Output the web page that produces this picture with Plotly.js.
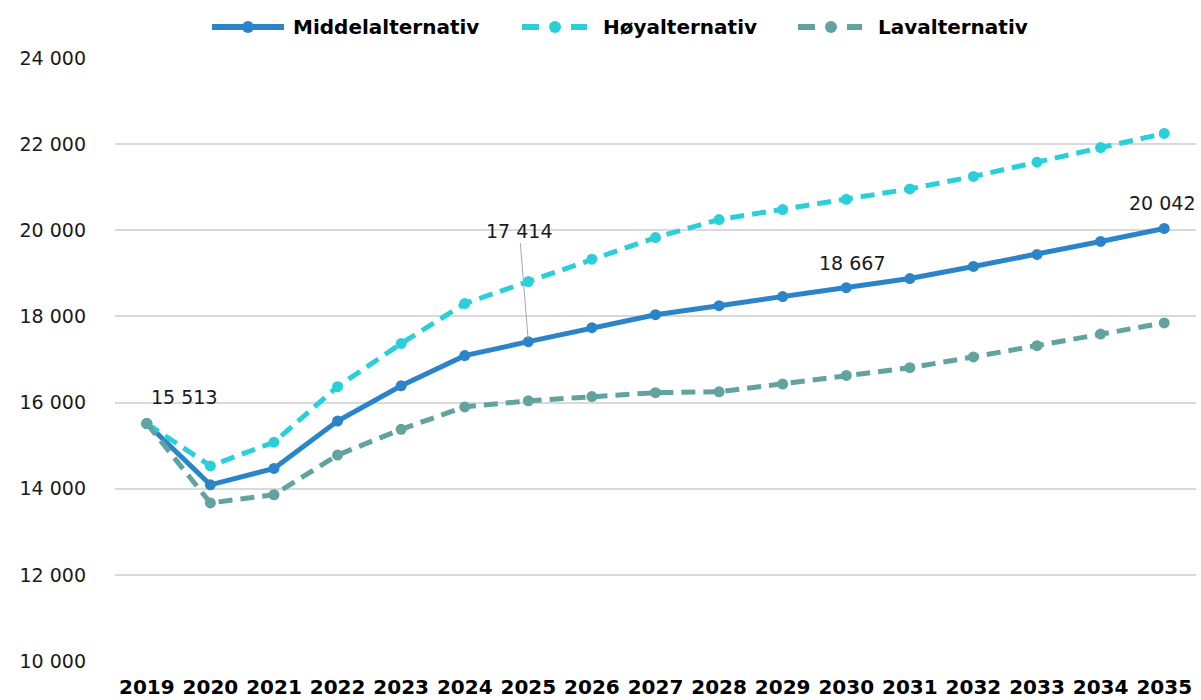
<!DOCTYPE html>
<html><head><meta charset="utf-8">
<script src="https://cdn.plot.ly/plotly-3.0.1.min.js"></script>
<style>html,body{margin:0;padding:0;background:#fff}#c{width:1201px;height:700px}</style>
</head><body><div id="c"></div>
<script>
const years = ['2019','2020','2021','2022','2023','2024','2025','2026','2027','2028','2029','2030','2031','2032','2033','2034','2035'];
const middel = [15513,14090,14470,15570,16390,17090,17414,17740,18040,18250,18460,18667,18880,19160,19440,19740,20042];
const hoy = [15513,14530,15080,16370,17370,18300,18810,19330,19830,20250,20480,20720,20960,21250,21580,21920,22250];
const lav = [15513,13670,13860,14780,15380,15900,16040,16140,16230,16250,16430,16630,16810,17060,17320,17590,17850];
const seriesNames = ['Middelalternativ', 'Høyalternativ', 'Lavalternativ'];
const seriesColors = ['#2B84C8', '#2BCFD9', '#63A39F'];
const labelIdx = [0, 6, 11, 16];

const fontFam = '"DejaVu Sans", sans-serif';
const M = {l: 115, r: 5, t: 58, b: 39};
const W = 1201, H = 700;
const PW = W - M.l - M.r, PH = H - M.t - M.b;
const px = p => (p - M.l) / PW;
const py = p => (H - M.b - p) / PH;

const traces = [
  {x: years, y: middel, name: seriesNames[0], mode: 'lines+markers',
   line: {color: seriesColors[0], width: 5}, marker: {color: seriesColors[0], size: 11}},
  {x: years, y: hoy, name: seriesNames[1], mode: 'lines+markers',
   line: {color: seriesColors[1], width: 5, dash: '14px,8px'}, marker: {color: seriesColors[1], size: 11}},
  {x: years, y: lav, name: seriesNames[2], mode: 'lines+markers',
   line: {color: seriesColors[2], width: 5, dash: '14px,8px'}, marker: {color: seriesColors[2], size: 11}}
];
const fmt = v => String(v).replace(/\B(?=(\d{3})+(?!\d))/g, ' ');
const shifts = {0: [37, 27], 11: [6, 25], 16: [-2, 25]};
const annotations = labelIdx.map(i => {
  if (i === 6) {
    return {xref: 'x', yref: 'y', x: i, y: middel[i], text: fmt(middel[i]), showarrow: true, arrowhead: 0,
      arrowwidth: 1, arrowcolor: '#a6a6a6', ax: -9, ay: -111, standoff: 3,
      font: {family: fontFam, size: 19, color: '#1a1a1a'}};
  }
  return {xref: 'x', yref: 'y', x: i, y: middel[i], text: fmt(middel[i]), showarrow: false,
    xshift: shifts[i][0], yshift: shifts[i][1],
    font: {family: fontFam, size: 19, color: '#1a1a1a'}};
});

// custom legend (pixel layout converted to paper coords)
const legY = 27;
const legItems = [
  {segs: [[212, 284]], dot: 248, text: 291},
  {segs: [[522, 539], [571, 587]], dot: 555, text: 601},
  {segs: [[798, 815], [847, 862]], dot: 831, text: 876}
];
const shapes = [];
legItems.forEach((it, k) => {
  it.segs.forEach(s => shapes.push({type: 'line', xref: 'paper', yref: 'paper',
    x0: px(s[0]), x1: px(s[1]), y0: py(legY), y1: py(legY),
    line: {color: seriesColors[k], width: 6}}));
  shapes.push({type: 'circle', xref: 'paper', yref: 'paper',
    x0: px(it.dot - 6), x1: px(it.dot + 6), y0: py(legY + 6), y1: py(legY - 6),
    fillcolor: seriesColors[k], line: {width: 0}});
  annotations.push({xref: 'paper', yref: 'paper', x: px(it.text), y: py(legY),
    xanchor: 'left', yanchor: 'middle', showarrow: false, text: seriesNames[k],
    font: {family: fontFam, size: 20, color: '#000', weight: 'bold'}});
});

const layout = {
  width: W, height: H,
  margin: M,
  paper_bgcolor: '#fff', plot_bgcolor: '#fff',
  separators: ', ',
  font: {family: fontFam, color: '#000'},
  showlegend: false,
  xaxis: {type: 'category', range: [-0.5, 16.5], showgrid: false, zeroline: false,
    showline: false, ticks: '', ticklabelstandoff: 12,
    tickfont: {family: fontFam, size: 20, color: '#000', weight: 'bold'}},
  yaxis: {range: [10000, 24000], dtick: 2000, tickformat: ',d', showgrid: true,
    gridcolor: '#d9d9d9', gridwidth: 2, zeroline: false, showline: false, ticks: '',
    ticklabelstandoff: 28,
    tickfont: {family: fontFam, size: 19, color: '#1a1a1a'}},
  annotations: annotations,
  shapes: shapes
};
Plotly.newPlot('c', traces, layout, {displayModeBar: false, staticPlot: true});
</script></body></html>
